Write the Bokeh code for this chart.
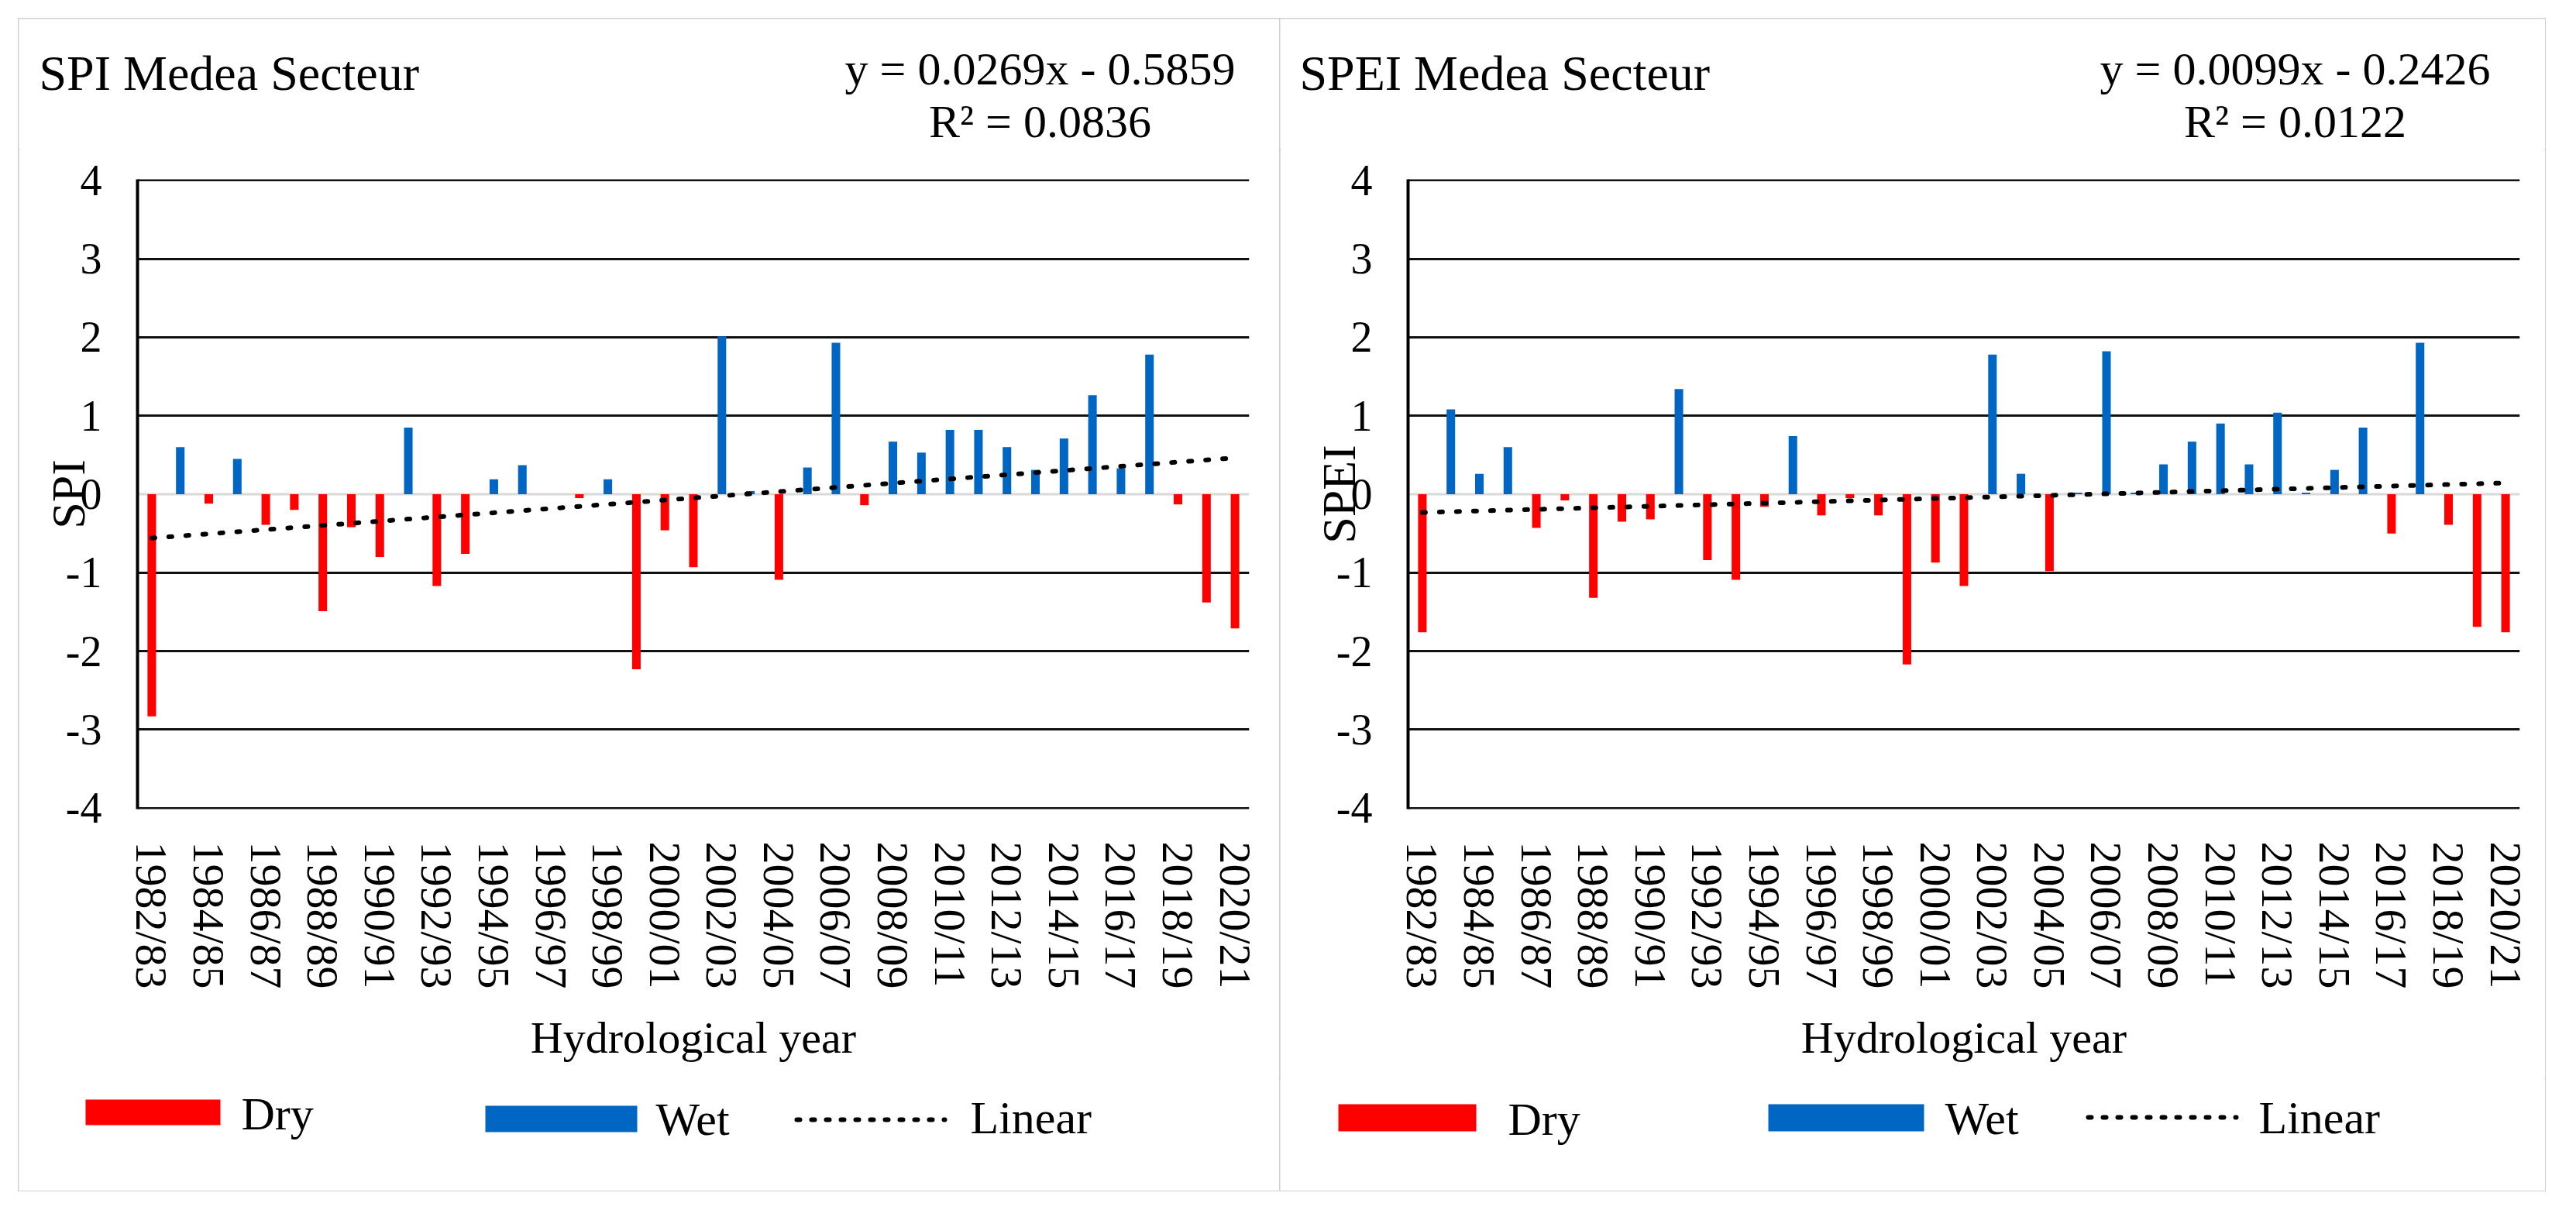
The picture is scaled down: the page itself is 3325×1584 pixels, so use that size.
from bokeh.plotting import figure
from bokeh.models import Range1d, FixedTicker, Span, Spacer
from bokeh.layouts import row, column
from bokeh.core.properties import value
from bokeh.embed import file_html
from bokeh.resources import INLINE

# ---------------- data ----------------
years = ["1982/83", "1983/84", "1984/85", "1985/86", "1986/87", "1987/88", "1988/89",
         "1989/90", "1990/91", "1991/92", "1992/93", "1993/94", "1994/95", "1995/96",
         "1996/97", "1997/98", "1998/99", "1999/00", "2000/01", "2001/02", "2002/03",
         "2003/04", "2004/05", "2005/06", "2006/07", "2007/08", "2008/09", "2009/10",
         "2010/11", "2011/12", "2012/13", "2013/14", "2014/15", "2015/16", "2016/17",
         "2017/18", "2018/19", "2019/20", "2020/21"]

spi = [-2.83, 0.60, -0.12, 0.45, -0.39, -0.20, -1.49, -0.42, -0.80, 0.85,
       -1.17, -0.76, 0.19, 0.37, 0.00, -0.05, 0.19, -2.23, -0.46, -0.93,
       2.01, 0.04, -1.09, 0.34, 1.93, -0.14, 0.67, 0.53, 0.82, 0.82,
       0.60, 0.31, 0.71, 1.26, 0.33, 1.78, -0.13, -1.38, -1.71]

spei = [-1.76, 1.08, 0.26, 0.60, -0.43, -0.08, -1.32, -0.35, -0.32, 1.34,
        -0.84, -1.09, -0.16, 0.74, -0.27, -0.05, -0.27, -2.17, -0.87, -1.17,
        1.78, 0.26, -0.98, 0.02, 1.82, 0.02, 0.38, 0.67, 0.90, 0.38,
        1.04, 0.02, 0.31, 0.85, -0.50, 1.93, -0.39, -1.69, -1.76]

spi_trend = {"slope": 0.0269, "intercept": -0.5859, "r2": 0.0836}
spei_trend = {"slope": 0.0099, "intercept": -0.2426, "r2": 0.0122}

y_ticks = [-4, -3, -2, -1, 0, 1, 2, 3, 4]
series_names = ["Dry", "Wet", "Linear"]

# ---------------- style ----------------
FONT = "Liberation Serif"
RED = "#FF0000"
BLUE = "#0066C4"
GRID = "#111111"
ZERO = "#D9D9D9"
BORDER = "#D0D0D0"
HEAD_H = 168
MAIN_H = 1200
FOOT_H = 145
FRAME_W = 1435
FRAME_H = 813
TOP_B = 39


def blank_fig(width, height):
    f = figure(width=width, height=height,
               x_range=Range1d(0, width), y_range=Range1d(height, 0),
               output_backend="svg", toolbar_location=None,
               x_axis_location=None, y_axis_location=None,
               min_border=0, min_border_left=0, min_border_right=0,
               min_border_top=0, min_border_bottom=0,
               background_fill_color="white", border_fill_color="white",
               outline_line_color=None, frame_align=False)
    f.title = None
    f.grid.visible = False
    return f


def make_panel(title, ylabel, values, trend, width, b_left, head, leg):
    n = len(years)
    xs = list(range(1, n + 1))
    dry_x = [x for x, v in zip(xs, values) if v < 0]
    dry_v = [v for v in values if v < 0]
    wet_x = [x for x, v in zip(xs, values) if v >= 0]
    wet_v = [v for v in values if v >= 0]
    trend_y = [trend["slope"] * x + trend["intercept"] for x in xs]

    # ---- header: title + trend equation ----
    h = blank_fig(width, HEAD_H)
    tx, ty, ex, ey1, ey2 = head
    h.text(x=[tx], y=[ty], text=[title], text_font=value(FONT),
           text_font_size="64px", text_align="left", text_baseline="alphabetic",
           text_color="black")
    sign = "-" if trend["intercept"] < 0 else "+"
    eq1 = f"y = {trend['slope']:.4f}x {sign} {abs(trend['intercept']):.4f}"
    eq2 = f"R\u00b2 = {trend['r2']:.4f}"
    h.text(x=[ex, ex], y=[ey1, ey2], text=[eq1, eq2], text_font=value(FONT),
           text_font_size="60px", text_align="center", text_baseline="alphabetic",
           text_color="black")

    # ---- main chart ----
    p = figure(width=width, height=MAIN_H,
               x_range=Range1d(0.5, n + 0.5), y_range=Range1d(-4.012, 4.012),
               output_backend="svg", toolbar_location=None,
               min_border_left=b_left, min_border_right=width - b_left - FRAME_W,
               min_border_top=TOP_B, min_border_bottom=MAIN_H - TOP_B - FRAME_H,
               background_fill_color="white", border_fill_color="white",
               outline_line_color=None, frame_align=False)
    p.title = None
    p.xgrid.visible = False
    p.ygrid.ticker = FixedTicker(ticks=[t for t in y_ticks if t != 0])
    p.ygrid.grid_line_color = GRID
    p.ygrid.grid_line_width = 3
    p.add_layout(Span(location=0, dimension="width", line_color=ZERO,
                      line_width=3, level="underlay"))

    p.vbar(x=dry_x, top=dry_v, bottom=0, width=0.3, fill_color=RED, line_color=None)
    p.vbar(x=wet_x, top=wet_v, bottom=0, width=0.3, fill_color=BLUE, line_color=None)
    p.line(xs, trend_y, line_color="black", line_width=6,
           line_dash="4 18", line_cap="round")

    ya = p.yaxis[0]
    ya.ticker = FixedTicker(ticks=y_ticks)
    ya.major_label_overrides = {t: str(t) for t in y_ticks}
    ya.axis_line_color = "black"
    ya.axis_line_width = 4
    ya.major_tick_out = 0
    ya.major_tick_in = 0
    ya.minor_tick_out = 0
    ya.minor_tick_in = 0
    ya.major_label_text_font = FONT
    ya.major_label_text_font_size = "56px"
    ya.major_label_text_color = "black"
    ya.major_label_standoff = 46
    ya.axis_label = ylabel
    ya.axis_label_text_font = FONT
    ya.axis_label_text_font_size = "62px"
    ya.axis_label_text_font_style = "normal"
    ya.axis_label_text_color = "black"
    ya.axis_label_standoff = -40

    xa = p.xaxis[0]
    odd = [x for x in xs if x % 2 == 1]
    xa.ticker = FixedTicker(ticks=odd)
    xa.major_label_overrides = {x: years[x - 1] for x in odd}
    xa.major_label_orientation = "vertical"
    xa.axis_line_color = None
    xa.major_tick_line_color = None
    xa.minor_tick_line_color = None
    xa.major_label_text_font = FONT
    xa.major_label_text_font_size = "58px"
    xa.major_label_text_color = "black"
    xa.major_label_standoff = 36
    xa.axis_label = "Hydrological year"
    xa.axis_label_text_font = FONT
    xa.axis_label_text_font_size = "58px"
    xa.axis_label_text_font_style = "normal"
    xa.axis_label_text_color = "black"
    xa.axis_label_standoff = 27

    # ---- footer: legend ----
    f = blank_fig(width, FOOT_H)
    (rcx, rcy, rw, rh, dx, dy), (bcx, bcy, bw, bh, wx, wy), (l0, l1, ly, lx, lty) = leg
    f.rect(x=[rcx], y=[rcy], width=rw, height=rh, fill_color=RED, line_color=None)
    f.rect(x=[bcx], y=[bcy], width=bw, height=bh, fill_color=BLUE, line_color=None)
    f.line(x=[l0, l1], y=[ly, ly], line_color="black", line_width=6,
           line_dash="4 15", line_cap="round")
    f.text(x=[dx, wx, lx], y=[dy, wy, lty], text=series_names, text_font=value(FONT),
           text_font_size="60px", text_align="left", text_baseline="middle",
           text_color="black")

    return column(h, p, f, spacing=0,
                  styles={"outline": f"3px solid {BORDER}", "outline-offset": "-2px"})


p1 = make_panel("SPI Medea Secteur", "SPI", spi, spi_trend,
                width=1628, b_left=153,
                head=(26, 70, 1318, 64, 132),
                leg=[(173, 43.5, 174, 33, 287, 45),
                     (700, 52, 196, 34, 822, 52),
                     (1004, 1195, 53, 1228, 50)])
p2 = make_panel("SPEI Medea Secteur", "SPEI", spei, spei_trend,
                width=1633, b_left=165,
                head=(25, 70, 1310, 64, 132),
                leg=[(164, 50.5, 178, 35, 294, 52),
                     (730.5, 50.5, 201, 35, 858, 51),
                     (1043, 1234, 50, 1263, 50)])

layout = column(Spacer(height=24), row(Spacer(width=24), p1, p2, spacing=0), spacing=0)

open("out.html", "w").write(file_html(layout, INLINE))
